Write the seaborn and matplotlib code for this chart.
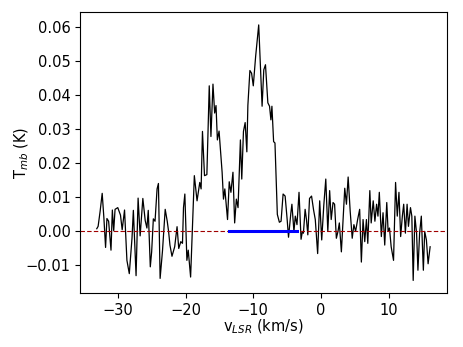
import numpy as np
import pandas as pd
import matplotlib
matplotlib.use("Agg")
import matplotlib.pyplot as plt
import seaborn as sns


# ----------------------- Spectrum
velocity = [
    -33.1, -32.9, -32.6, -32.3, -32.05, -31.8, -31.6, -31.35, -31.0, -30.8,
    -30.6, -30.4, -30.0, -29.6, -29.35, -29.0, -28.65, -28.3, -27.9, -27.7,
    -27.3, -27.0, -26.7, -26.3, -25.95, -25.7, -25.5, -25.2, -25.0, -24.75,
    -24.5, -24.2, -24.0, -23.75, -23.4, -23.0, -22.7, -22.5, -22.3, -22.0,
    -21.6, -21.25, -21.0, -20.7, -20.45, -20.3, -20.1, -19.8, -19.6, -19.25,
    -18.7, -18.3, -17.9, -17.7, -17.5, -17.2, -16.85, -16.5, -16.25, -15.95,
    -15.7, -15.5, -15.3, -15.05, -14.6, -14.4, -14.2, -13.8, -13.55, -13.3,
    -13.0, -12.75, -12.5, -12.25, -11.9, -11.7, -11.45, -11.2, -10.95, -10.8,
    -10.5, -10.25, -10.0, -9.65, -9.2, -8.7, -8.45, -8.2, -7.85, -7.6,
    -7.4, -7.25, -7.0, -6.8, -6.45, -6.15, -5.9, -5.6, -5.3, -5.0,
    -4.8, -4.45, -4.3, -4.0, -3.8, -3.55, -3.25, -2.95, -2.75, -2.6,
    -2.35, -2.15, -1.95, -1.7, -1.4, -1.1, -0.85, -0.5, -0.2, 0.1,
    0.4, 0.7, 1.0, 1.27, 1.5, 1.77, 2.0, 2.26, 2.5, 2.7,
    3.0, 3.25, 3.5, 3.75, 4.0, 4.3, 4.6, 4.85, 5.1, 5.4,
    5.7, 5.95, 6.2, 6.45, 6.7, 6.9, 7.2, 7.4, 7.7, 7.95,
    8.2, 8.4, 8.6, 8.9, 9.15, 9.4, 9.7, 9.9, 10.1, 10.35,
    10.7, 11.0, 11.25, 11.5, 11.75, 12.0, 12.2, 12.45, 12.7, 12.9,
    13.2, 13.4, 13.6, 13.85, 14.1, 14.3, 14.55, 14.8, 15.1, 15.3,
    15.55, 15.8, 16.1,
]

tmb = [
    0.0008, 0.0015, 0.006, 0.0112, 0.004, -0.0047, 0.0038, 0.003, -0.0055, 0.0063,
    0.0002, 0.0065, 0.007, 0.0048, 0.0005, 0.0063, -0.0085, -0.0124, -0.002, 0.0062,
    -0.013, 0.0098, -0.0013, 0.0097, 0.0032, 0.001, 0.0062, -0.0104, -0.006, 0.0037,
    0.003, 0.0125, 0.0141, -0.0138, -0.0057, 0.0065, 0.003, 0.0, -0.004, -0.0073,
    -0.0045, 0.0014, -0.005, -0.003, -0.0035, 0.007, 0.011, -0.0085, -0.0055, -0.0134,
    0.0164, 0.009, 0.0144, 0.0125, 0.0294, 0.0164, 0.0167, 0.0428, 0.0279, 0.0433,
    0.0348, 0.037, 0.0269, 0.0295, 0.0174, 0.0095, 0.0125, 0.0035, 0.0146, 0.0115,
    0.0174, 0.0025, 0.0095, 0.007, 0.0269, 0.0154, 0.0294, 0.032, 0.0234, 0.037,
    0.0473, 0.0465, 0.0428, 0.0515, 0.0607, 0.0368, 0.0475, 0.049, 0.0378, 0.0368,
    0.0328, 0.0368, 0.0264, 0.026, 0.005, 0.0027, 0.003, 0.011, 0.0104, 0.0035,
    -0.0017, 0.0055, 0.008, 0.0, 0.0045, 0.002, 0.0115, -0.0023, 0.0, -0.0005,
    0.0065, 0.0035, -0.001, 0.0097, 0.0104, 0.0063, 0.0035, -0.0065, 0.009, -0.0025,
    0.0075, 0.0154, 0.0, 0.012, 0.0035, 0.0085, 0.008, -0.002, 0.0, 0.0025,
    -0.006, 0.0035, 0.0127, 0.008, 0.016, 0.006, -0.002, 0.002, 0.0, 0.0035,
    0.0065, -0.009, 0.0035, -0.003, 0.0035, -0.0035, 0.012, 0.0025, 0.009, 0.003,
    0.008, 0.0045, 0.0115, -0.0015, 0.0055, -0.004, 0.0085, 0.0, 0.001, -0.0045,
    -0.0085, 0.0144, 0.0045, 0.0115, -0.0015, 0.0045, 0.008, -0.0005, 0.008, 0.0015,
    0.007, 0.0045, -0.0144, 0.0045, -0.0005, -0.0114, -0.0005, 0.0045, -0.0114, 0.0,
    -0.0025, -0.0095, -0.0045,
]

# integration window (blue bar on the baseline)
window = [-13.65, -3.55]

df = pd.DataFrame({"v": velocity, "T": tmb})


# ----------------------- Plot
fig = plt.figure(figsize=(4.63, 3.47), dpi=100)
ax = fig.add_axes([0.173, 0.155, 0.792, 0.81])

sns.lineplot(data=df, x="v", y="T", color="black", linewidth=0.9,
             estimator=None, sort=False, ax=ax)

ax.axhline(0, color="#a00000", linestyle="--", linewidth=0.8, dashes=(4, 2))
ax.plot(window, [0, 0], color="blue", linewidth=2.2)

ax.set_xlabel(r"v$_{LSR}$ (km/s)", fontsize=10.5, labelpad=0)
ax.set_ylabel(r"T$_{mb}$ (K)", fontsize=10.5)
ax.yaxis.set_label_coords(-0.135, 0.5)
ax.set_xticks([-30, -20, -10, 0, 10])
ax.set_yticks([-0.01, 0.0, 0.01, 0.02, 0.03, 0.04, 0.05, 0.06])
ax.tick_params(labelsize=10.5)

plt.savefig("out.png", dpi=100)
